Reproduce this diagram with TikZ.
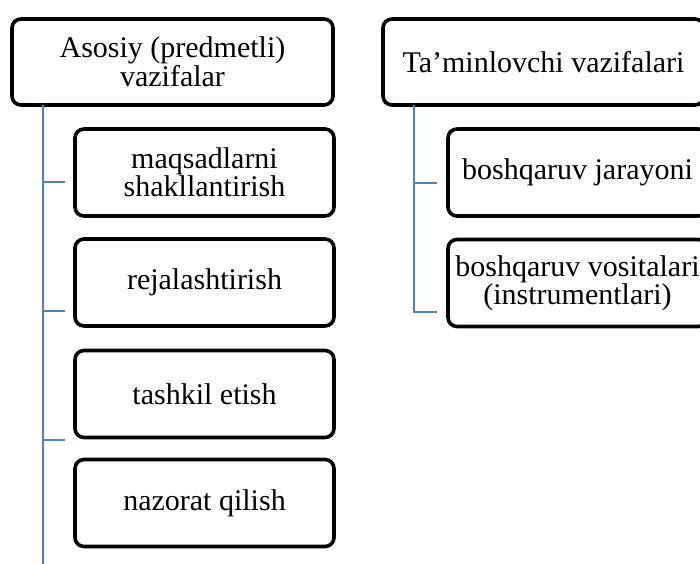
\documentclass[tikz,border=0pt]{standalone}
\usepackage{fontspec}
\setmainfont{Liberation Serif}
\begin{document}
\begin{tikzpicture}[x=1pt,y=-1pt,
  box/.style={draw=black,line width=3.6pt,rounded corners=9pt,fill=white,
    align=center,inner sep=0pt,font=\fontsize{30}{27}\selectfont},
  headbox/.style={box,minimum width=321pt,minimum height=86pt},
  itembox/.style={box,minimum width=259pt,minimum height=87pt},
  link/.style={draw={rgb,255:red,79;green,129;blue,189},line width=1.6pt}]
\useasboundingbox (0,0) rectangle (700,563);
\clip (0,0) rectangle (700,563);

% group headers
\node[headbox] (L0) at (172.5,62) {Asosiy (predmetli)\\vazifalar};
\node[headbox] (R0) at (543.5,62) {Ta’minlovchi vazifalari};

% main functions
\node[itembox] (L1) at (204.5,172.5) {maqsadlarni\\shakllantirish};
\node[itembox] (L2) at (204.5,282.5) {rejalashtirish};
\node[itembox] (L3) at (204.5,394) {tashkil etish};
\node[itembox] (L4) at (204.5,503) {nazorat qilish};

% supporting functions
\node[itembox] (R1) at (577.5,172.5) {boshqaruv jarayoni};
\node[itembox] (R2) at (577.5,283) {boshqaruv vositalari\\(instrumentlari)};

% left trunk and branches
\coordinate (lt) at (43,105);
\coordinate (lb) at (43,575);
\coordinate (l1) at (65,182);
\coordinate (l2) at (65,311);
\coordinate (l3) at (65,440);
\draw[link] (lt) -- (lb);
\draw[link] (l1) -- (l1 -| lt);
\draw[link] (l2) -- (l2 -| lt);
\draw[link] (l3) -- (l3 -| lt);

% right trunk and branches
\coordinate (rt) at (414,105);
\coordinate (r1) at (437,183);
\coordinate (r2) at (437,312);
\draw[link] (rt) |- (r2);
\draw[link] (r1) -- (r1 -| rt);
\end{tikzpicture}
\end{document}
